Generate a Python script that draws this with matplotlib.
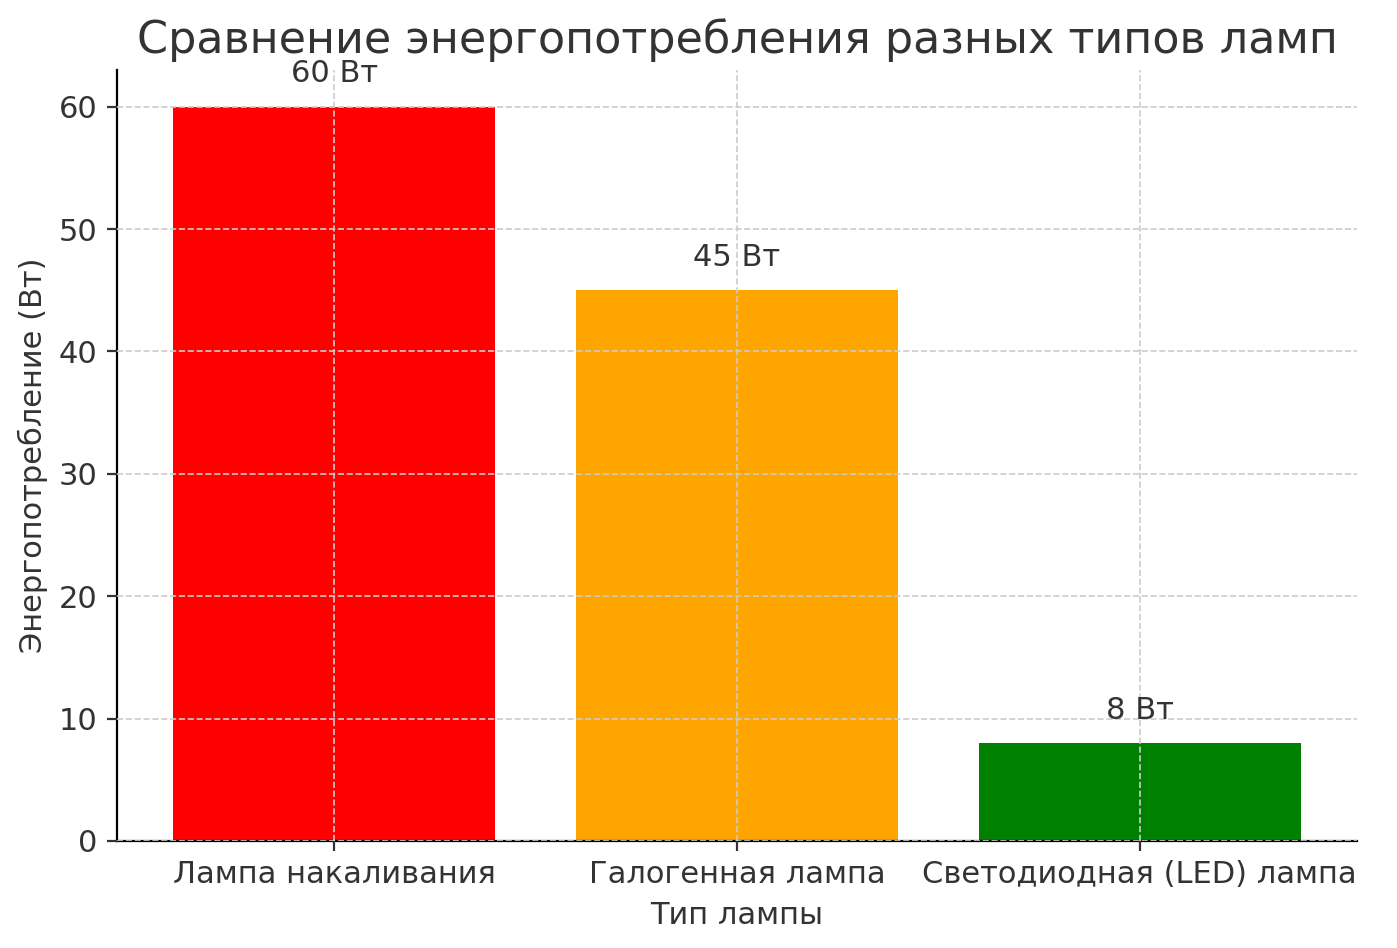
import matplotlib
matplotlib.use("Agg")
import matplotlib.pyplot as plt

categories = ["Лампа накаливания", "Галогенная лампа", "Светодиодная (LED) лампа"]
values = [60, 45, 8]
colors = ["red", "orange", "green"]

plt.rcParams['text.color'] = '#333333'
plt.rcParams['axes.labelcolor'] = '#333333'
fig = plt.figure(figsize=(6.985, 4.74), dpi=200)
ax = fig.add_axes([117/1397, 1-841/948, (1357-117)/1397, (841-70)/948])
bars = ax.bar(categories, values, color=colors, width=0.8)
for b, v in zip(bars, values):
    ax.text(b.get_x()+b.get_width()/2, v+1.5, f"{v} Вт", ha='center', va='bottom', fontsize=11)
ax.set_ylim(0, 63)
ax.set_title("Сравнение энергопотребления разных типов ламп", fontsize=16, pad=6)
ax.set_xlabel("Тип лампы", fontsize=11)
ax.set_ylabel("Энергопотребление (Вт)", fontsize=11)
ax.tick_params(labelsize=11, colors='#333333')
ax.grid(True, linestyle='--', color='#cccccc', linewidth=0.6)
ax.set_axisbelow(False)
for s in ['top', 'right']:
    ax.spines[s].set_visible(False)
fig.savefig("out.png", dpi=200)
